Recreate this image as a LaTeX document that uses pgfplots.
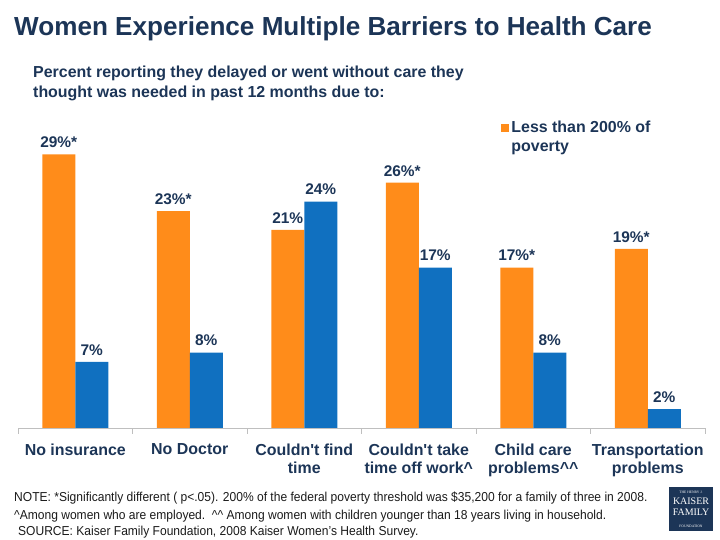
\documentclass[border=0pt]{standalone}
\usepackage{fontspec}
\setmainfont{Liberation Sans}
\newfontfamily\narrowfont[FakeStretch=0.93]{Liberation Sans}
\newfontfamily\logofont{Liberation Serif}
\usepackage{pgfplots}
\pgfplotsset{compat=1.18}
\definecolor{kffnavy}{HTML}{1C3557}
\definecolor{kfforange}{HTML}{FF8C1A}
\definecolor{kffblue}{HTML}{1070C0}
\definecolor{axgray}{HTML}{BFBFBF}
\definecolor{notegray}{HTML}{1A1A1A}
\begin{document}
\begin{tikzpicture}[x=1bp,y=1bp]
\useasboundingbox (0,0) rectangle (720,540);
\node[anchor=base west, inner sep=0, text=kffnavy, font=\fontsize{26.2}{30}\selectfont\bfseries] at (14,504) {Women Experience Multiple Barriers to Health Care};
\node[anchor=base west, inner sep=0, text=kffnavy, font=\fontsize{16}{19}\selectfont\bfseries] at (33,462) {Percent reporting they delayed or went without care they};
\node[anchor=base west, inner sep=0, text=kffnavy, font=\fontsize{16}{19}\selectfont\bfseries] at (33,442) {thought was needed in past 12 months due to:};
\begin{axis}[
  at={(18bp,112bp)}, anchor=south west,
  scale only axis, width=687bp, height=283bp,
  xmin=-0.5, xmax=5.5, ymin=0, ymax=30,
  ybar, bar width=33bp,
  axis x line*=bottom, hide y axis,
  x axis line style={axgray, line width=0.8pt},
  xtick={0,...,5},
  xticklabels={No insurance, No Doctor, Couldn\textquotesingle t find\\time, Couldn\textquotesingle t take\\time off work\textasciicircum, Child care\\problems\textasciicircum\textasciicircum, Transportation\\problems},
  major tick length=0pt,
  minor xtick={-0.5,0.5,...,5.5},
  minor tick length=6bp,
  tick align=outside,
  minor tick style={axgray, line width=0.8pt},
  xticklabel style={font=\fontsize{16}{18.5}\selectfont\bfseries, text=kffnavy, align=center, anchor=north, yshift=-12bp},
  nodes near coords,
  point meta=explicit symbolic,
  nodes near coords style={font=\fontsize{15.5}{18}\selectfont\bfseries, text=kffnavy, yshift=3bp},
  legend style={draw=none, fill=none, at={(0.699,1.10)}, anchor=north west,
    font=\fontsize{16}{19}\selectfont\bfseries, text=kffnavy,
    cells={anchor=west, align=left}},
  legend image code/.code={\fill[kfforange] (0bp,5bp) rectangle (8bp,13bp);},
]
\addplot[fill=kfforange, draw=none, bar shift=-16.5bp] coordinates {
  (0,29) [29\%*]
  (1,23) [23\%*]
  (2,21) [21\%]
  (3,26) [26\%*]
  (4,17) [17\%*]
  (5,19) [19\%*]
};
\addlegendentry{Less than 200\% of\\poverty}
\addplot[fill=kffblue, draw=none, bar shift=16.5bp, forget plot] coordinates {
  (0,7) [7\%]
  (1,8) [8\%]
  (2,24) [24\%]
  (3,17) [17\%]
  (4,8) [8\%]
  (5,2) [2\%]
};
\end{axis}
\node[anchor=base west, inner sep=0, text=notegray, font=\narrowfont\fontsize{13}{15}\selectfont] at (14,38) {NOTE: *Significantly different ( p<.05). 200\% of the federal poverty threshold was \$35,200 for a family of three in 2008.};
\node[anchor=base west, inner sep=0, text=notegray, font=\narrowfont\fontsize{13}{15}\selectfont] at (14,20) {\textasciicircum Among women who are employed.\ \ \textasciicircum\textasciicircum\ Among women with children younger than 18 years living in household.};
\node[anchor=base west, inner sep=0, text=notegray, font=\narrowfont\fontsize{13}{15}\selectfont] at (18,4) {SOURCE: Kaiser Family Foundation, 2008 Kaiser Women’s Health Survey.};
\fill[kffnavy] (669,9) rectangle (713,53);
\node[text=white, align=center, inner sep=0, font=\logofont] at (691,31) {{\fontsize{3.6}{4.5}\selectfont THE HENRY J.}\\[-1bp]{\fontsize{10}{10}\selectfont KAISER}\\[-1bp]{\fontsize{10}{10}\selectfont FAMILY}\\{\fontsize{3.6}{4.5}\selectfont FOUNDATION}};
\end{tikzpicture}
\end{document}
